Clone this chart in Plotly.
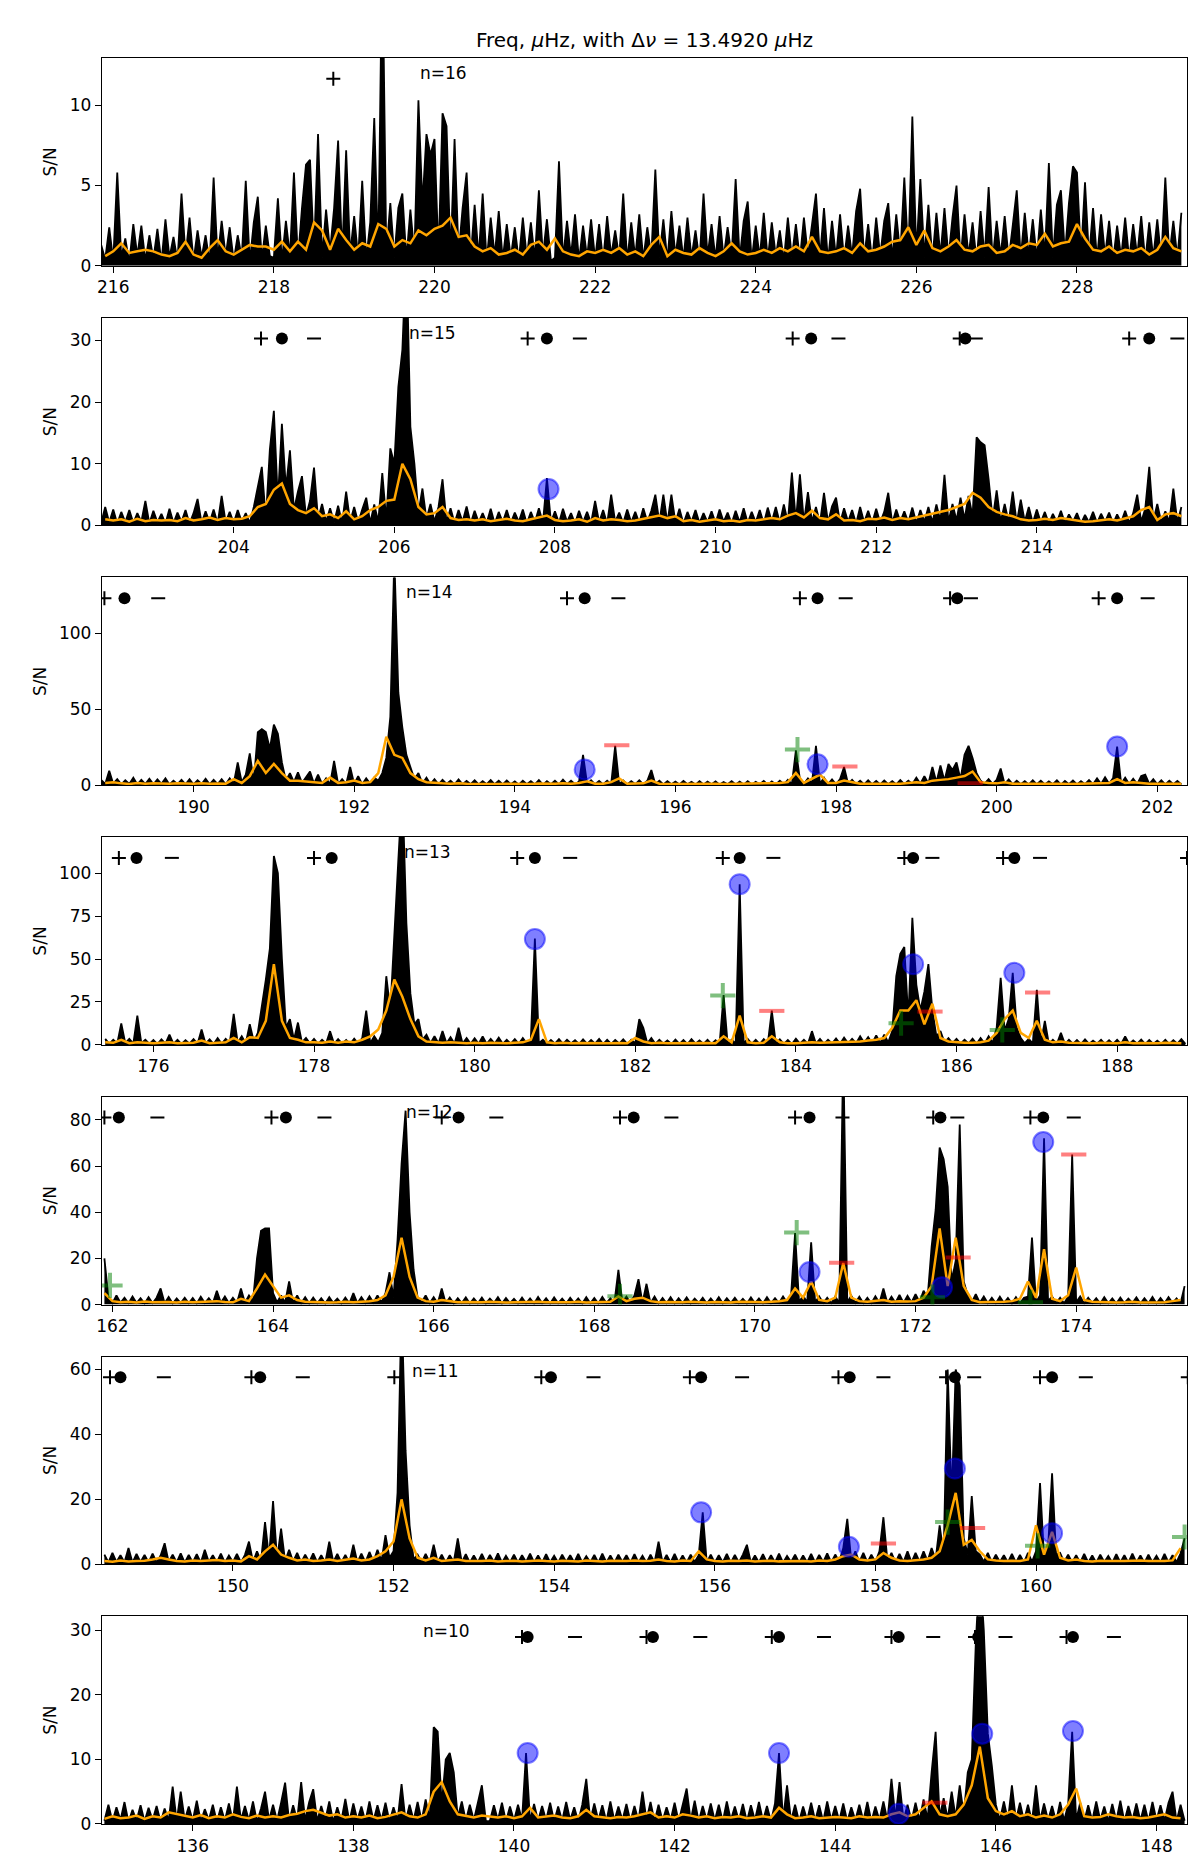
import plotly.graph_objects as go
from plotly.subplots import make_subplots

delta_nu = 13.4920
orders = [16, 15, 14, 13, 12, 11, 10]
x_low = [215.86, 202.36, 188.86, 175.36, 161.87, 148.37, 134.87]
x_width = 13.51
y_top = [12.94, 33.7, 137.0, 121.0, 90.0, 64.0, 32.2]
y_dtick = [5, 10, 50, 25, 20, 20, 10]
label_x = [219.79, 206.16, 192.62, 179.10, 165.63, 152.21, 138.84]

# S/N spectrum, sampled every 0.05 uHz from snr_start
snr_start = [215.85, 202.35, 188.85, 175.40, 161.90, 148.40, 134.90]
# smoothed spectrum, sampled every 0.1 uHz from smooth_start
smooth_start = [215.9, 202.4, 188.9, 175.4, 161.9, 148.4, 134.9]

snr_n16 = [1.3, 0.4, 2.4,
           0.3, 5.8, 0.5, 1.7, 0.2, 2.6, 0.6, 2.5, 0.3, 1.9,
           0.4, 2.3, 0.2, 2.9, 0.5, 1.8, 0.3, 4.5, 0.6, 3.0,
           0.3, 2.2, 0.5, 1.9, 0.2, 5.5, 0.4, 2.8, 0.6, 2.4,
           0.3, 1.9, 0.5, 5.3, 0.2, 2.7, 4.3, 0.4, 2.5, 0.6,
           0.5, 4.2, 0.3, 2.8, 0.6, 5.8, 0.4, 3.6, 6.3, 6.6,
           0.8, 8.2, 0.5, 3.5, 0.9, 3.6, 7.8, 0.6, 7.2, 0.7,
           3.1, 0.5, 5.3, 0.4, 2.7, 9.2, 0.6, 20.0, 0.8, 3.9,
           0.5, 3.6, 4.5, 0.4, 3.5, 0.7, 10.3, 3.8, 8.2, 6.9,
           7.9, 0.6, 9.5, 8.7, 0.5, 7.9, 0.7, 3.6, 5.8, 0.4,
           3.8, 0.5, 4.5, 0.3, 3.0, 0.6, 3.4, 0.4, 2.6, 0.5,
           2.4, 0.3, 3.0, 0.5, 2.7, 0.4, 4.7, 0.6, 2.9, 0.3,
           0.5, 6.5, 0.4, 2.8, 0.6, 3.2, 0.3, 2.5, 0.5, 2.9,
           0.4, 2.6, 0.3, 3.1, 0.6, 2.2, 0.5, 4.5, 0.3, 2.7,
           0.5, 3.2, 0.4, 2.4, 0.6, 6.0, 0.5, 2.9, 0.3, 3.4,
           0.6, 2.5, 0.4, 3.0, 0.5, 2.2, 0.3, 4.5, 0.6, 2.6,
           0.4, 3.1, 0.5, 2.4, 0.6, 5.4, 0.4, 2.8, 4.0, 0.3,
           2.5, 0.5, 3.3, 0.4, 2.7, 0.6, 2.2, 0.3, 3.0, 0.5,
           2.6, 0.4, 3.0, 0.6, 2.4, 4.5, 0.5, 3.6, 0.3, 2.8,
           0.5, 3.2, 0.4, 2.5, 0.6, 3.4, 4.8, 0.5, 2.6, 0.3,
           3.0, 0.6, 2.8, 3.9, 0.4, 3.2, 0.7, 5.5, 0.6, 9.3,
           0.7, 5.4, 0.5, 3.8, 0.4, 3.3, 0.6, 3.6, 0.5, 3.0,
           5.0, 0.4, 3.2, 0.6, 2.7, 0.3, 3.4, 0.5, 4.9, 0.4,
           2.8, 0.6, 3.1, 0.4, 2.5, 4.7, 0.5, 3.3, 0.6, 2.9,
           0.4, 3.5, 0.6, 6.4, 0.5, 3.8, 4.7, 0.7, 3.9, 6.2,
           5.8, 0.6, 5.2, 0.5, 3.6, 0.4, 3.2, 0.6, 2.8, 0.3,
           2.5, 0.5, 3.0, 0.4, 2.6, 0.6, 3.1, 0.3, 2.7, 0.5,
           2.9, 0.4, 5.5, 0.6, 2.8, 0.5, 3.3]

smooth_n16 = [0.6,
              0.9, 1.4, 0.8, 0.9, 1.0, 0.9, 0.7, 0.6, 0.8, 1.5,
              0.7, 0.5, 1.1, 1.6, 0.9, 0.7, 1.0, 1.3, 1.2, 1.2,
              1.0, 1.5, 0.9, 1.5, 1.0, 2.7, 2.2, 1.0, 2.3, 1.6,
              1.0, 1.4, 1.2, 2.6, 2.3, 1.2, 1.6, 1.4, 2.2, 1.9,
              2.3, 2.5, 3.0, 1.8, 1.9, 1.2, 0.9, 1.1, 0.7, 0.8,
              1.0, 0.7, 1.3, 1.5, 1.0, 1.7, 0.9, 0.7, 0.6, 0.9,
              0.8, 1.0, 0.8, 1.1, 0.7, 0.9, 0.6, 1.3, 1.8, 0.6,
              1.0, 0.8, 0.7, 1.1, 0.8, 0.6, 0.9, 1.4, 0.9, 0.7,
              0.8, 1.0, 0.8, 1.1, 0.9, 1.2, 0.9, 1.8, 0.9, 0.8,
              0.9, 1.1, 0.8, 1.4, 0.9, 1.0, 1.2, 1.5, 1.6, 2.4,
              1.3, 2.2, 1.1, 0.9, 1.2, 1.6, 1.0, 0.9, 1.2, 1.3,
              0.8, 0.9, 1.3, 1.1, 1.4, 1.3, 2.0, 1.2, 1.4, 1.5,
              2.6, 1.7, 1.0, 0.9, 1.2, 0.8, 1.0, 0.9, 1.1, 0.7,
              1.0, 1.8, 1.1, 0.9]

snr_n15 = [0.4, 3.0, 0.5,
           2.6, 0.3, 2.2, 0.5, 2.5, 0.4, 2.0, 0.6, 4.0, 0.3,
           2.4, 0.5, 1.9, 0.3, 2.7, 0.4, 2.1, 0.6, 2.5, 0.3,
           2.0, 4.3, 0.4, 2.3, 0.5, 2.6, 0.3, 4.8, 0.5, 2.2,
           0.4, 2.5, 0.6, 2.0, 0.4, 3.0, 6.0, 9.5, 1.0, 12.3,
           18.6, 4.0, 16.5, 6.0, 12.2, 2.5, 5.5, 8.0, 1.5, 4.0,
           9.4, 1.0, 3.5, 0.6, 2.8, 0.5, 3.2, 0.4, 5.5, 0.6,
           3.0, 0.5, 2.6, 4.5, 0.4, 3.4, 0.6, 8.5, 0.8, 12.5,
           10.0, 22.5, 28.5, 45.0, 16.0, 10.0, 2.0, 6.0, 1.0, 3.5,
           0.6, 3.0, 7.5, 0.5, 2.8, 0.4, 2.5, 0.6, 3.1, 0.3,
           2.4, 0.5, 2.0, 0.4, 2.7, 0.3, 2.2, 0.5, 2.5, 0.4,
           2.1, 0.6, 2.6, 0.3, 2.2, 0.5, 2.8, 0.4, 7.7, 0.5,
           2.3, 0.4, 2.7, 0.6, 2.0, 0.3, 2.4, 0.5, 2.2, 0.4,
           4.0, 0.5, 2.5, 0.3, 5.0, 0.6, 2.1, 0.4, 2.6, 0.5,
           2.2, 0.4, 2.8, 0.6, 2.4, 5.0, 0.5, 5.0, 0.4, 5.0,
           0.5, 2.7, 0.3, 2.2, 0.6, 2.5, 0.4, 2.0, 0.5, 2.3,
           0.4, 2.6, 0.6, 2.1, 0.3, 2.4, 0.5, 2.8, 0.4, 2.2,
           0.5, 2.5, 0.3, 2.9, 0.6, 3.0, 0.4, 3.4, 0.5, 8.6,
           0.7, 8.3, 0.5, 5.4, 0.6, 3.0, 0.4, 5.3, 0.5, 3.1,
           4.5, 0.4, 2.8, 0.6, 2.5, 0.3, 3.0, 0.5, 2.4, 0.4,
           2.7, 0.5, 2.2, 5.3, 0.4, 2.6, 0.6, 2.3, 0.5, 2.9,
           0.4, 2.5, 0.6, 3.0, 0.5, 3.4, 0.7, 8.2, 0.6, 3.5,
           0.8, 4.5, 1.0, 4.8, 1.5, 14.3, 13.5, 13.0, 7.5, 1.0,
           5.7, 0.6, 3.5, 0.5, 5.5, 0.4, 4.2, 0.6, 3.0, 0.4,
           2.6, 0.5, 2.2, 0.3, 1.9, 0.5, 2.4, 0.4, 1.8, 0.6,
           2.0, 0.3, 1.7, 0.5, 2.2, 0.4, 1.9, 0.6, 2.1, 0.3,
           1.8, 0.5, 2.4, 0.4, 2.0, 5.0, 0.6, 2.7, 9.5, 0.7,
           3.5, 0.5, 2.3, 0.6, 6.0, 0.5, 3.0]

smooth_n15 = [1.0, 0.8, 1.0, 0.6, 1.1, 0.7,
              0.9, 0.8, 0.9, 0.7, 1.2, 0.8, 1.0, 1.3, 0.9, 1.2,
              1.0, 1.1, 1.5, 3.0, 3.5, 5.8, 6.8, 3.5, 2.5, 2.0,
              2.8, 1.5, 1.8, 1.2, 2.3, 1.0, 1.5, 2.5, 3.0, 4.0,
              4.2, 10.0, 7.5, 3.0, 1.8, 2.0, 3.0, 1.2, 0.9, 1.0,
              0.8, 1.0, 0.7, 0.9, 1.1, 0.8, 0.7, 1.0, 1.3, 1.6,
              0.9, 0.7, 0.8, 1.0, 0.6, 1.2, 0.8, 1.0, 0.9, 0.7,
              0.8, 1.1, 1.3, 1.6, 1.2, 1.5, 0.7, 0.9, 0.6, 0.8,
              1.0, 0.7, 0.8, 0.6, 0.9, 0.8, 1.0, 1.2, 1.0, 1.6,
              2.0, 1.3, 2.4, 1.2, 1.0, 1.8, 0.8, 0.9, 0.7, 1.1,
              1.0, 1.3, 0.9, 1.2, 1.0, 1.3, 1.5, 1.8, 2.2, 2.5,
              3.0, 3.5, 5.3, 4.5, 3.0, 2.2, 1.8, 1.5, 1.0, 0.8,
              0.9, 1.1, 0.9, 1.2, 1.0, 0.8, 0.6, 0.7, 0.9, 1.0,
              0.8, 1.2, 1.5, 2.5, 3.0, 0.9, 1.8, 2.0, 1.5]

snr_n14 = [3.5, 0.8, 9.5,
           1.0, 4.0, 0.6, 3.2, 0.8, 5.0, 0.5, 3.5, 0.7, 4.2,
           0.6, 3.8, 0.9, 4.5, 0.5, 3.0, 0.7, 3.6, 0.6, 4.0,
           0.5, 3.2, 0.8, 4.3, 0.6, 3.5, 0.7, 3.9, 0.5, 4.5,
           1.0, 15.0, 2.0, 7.0, 21.0, 2.0, 35.0, 37.0, 35.0, 24.0,
           40.0, 34.0, 15.0, 3.0, 8.0, 2.0, 8.5, 1.5, 5.0, 9.0,
           1.0, 7.0, 0.8, 4.5, 0.6, 16.0, 0.8, 4.0, 0.7, 12.0,
           0.8, 6.0, 0.6, 4.5, 1.0, 5.0, 3.0, 8.0, 18.0, 45.0,
           150.0, 61.0, 38.0, 20.0, 12.0, 4.0, 8.0, 1.0, 5.0, 0.7,
           4.0, 0.6, 3.5, 0.8, 3.0, 0.5, 3.8, 0.6, 2.8, 0.7,
           3.2, 0.5, 2.6, 0.7, 3.4, 0.6, 2.9, 0.5, 3.1, 0.6,
           2.5, 0.4, 3.0, 0.6, 2.7, 0.5, 3.3, 0.4, 2.6, 0.6,
           2.9, 0.5, 3.6, 0.7, 3.0, 0.6, 2.4, 20.0, 0.8, 3.2,
           0.6, 2.8, 0.5, 3.0, 0.7, 26.0, 0.6, 3.1, 0.5, 2.7,
           0.6, 3.2, 0.5, 2.9, 10.0, 0.7, 3.0, 0.5, 2.6, 0.6,
           2.4, 0.5, 2.8, 0.6, 2.2, 0.4, 2.6, 0.5, 2.3, 0.6,
           2.5, 0.4, 2.1, 0.6, 2.7, 0.5, 2.3, 0.4, 2.6, 0.5,
           2.2, 0.6, 2.8, 0.4, 2.5, 0.5, 3.0, 0.6, 3.5, 0.7,
           23.0, 4.0, 1.0, 4.5, 1.2, 26.0, 1.0, 5.0, 0.7, 3.8,
           0.6, 4.0, 12.0, 0.8, 3.5, 0.6, 3.0, 0.5, 3.3, 0.6,
           2.8, 0.5, 3.1, 0.6, 2.6, 0.5, 3.4, 0.7, 3.0, 0.8,
           5.0, 1.0, 6.0, 1.2, 12.0, 2.0, 13.0, 3.0, 14.0, 10.0,
           15.0, 4.0, 20.0, 26.0, 18.0, 8.0, 3.0, 1.0, 4.0, 0.8,
           3.5, 11.0, 0.7, 3.8, 0.5, 3.0, 0.6, 2.7, 0.5, 3.2,
           0.6, 2.9, 0.5, 2.5, 0.7, 3.3, 0.4, 2.8, 0.6, 3.1,
           0.5, 2.6, 0.7, 3.4, 0.6, 4.5, 0.8, 5.2, 1.0, 4.8,
           25.5, 1.0, 5.0, 0.8, 4.2, 0.7, 6.0, 7.0, 0.8, 4.0,
           0.6, 3.2, 0.5, 3.0, 0.7, 2.8, 0.5]

smooth_n14 = [1.5,
              2.0, 1.2, 0.8, 1.5, 1.0, 1.3, 1.1, 0.9, 1.2, 1.0,
              1.0, 1.3, 0.9, 1.1, 1.0, 4.0, 1.5, 6.0, 16.0, 8.0,
              14.0, 8.0, 3.0, 3.0, 2.5, 2.0, 1.5, 5.0, 1.5, 2.0,
              3.0, 1.5, 2.0, 8.0, 32.0, 20.0, 18.0, 8.0, 4.0, 2.0,
              1.5, 1.2, 1.0, 1.3, 1.0, 0.9, 1.2, 1.0, 0.8, 1.0,
              0.9, 1.0, 0.8, 1.1, 0.9, 1.0, 1.2, 1.0, 1.5, 2.5,
              1.0, 0.9, 2.0, 4.5, 1.0, 1.0, 1.2, 3.0, 1.0, 0.8,
              0.9, 1.0, 0.8, 1.1, 0.9, 1.0, 0.8, 0.9, 1.0, 0.9,
              0.8, 1.0, 1.1, 1.5, 2.0, 8.0, 1.5, 4.0, 7.0, 1.5,
              1.5, 3.0, 2.0, 1.0, 0.9, 1.0, 1.2, 1.0, 0.9, 1.5,
              2.0, 1.5, 3.0, 3.5, 4.0, 5.0, 6.0, 9.0, 2.0, 1.5,
              1.2, 2.0, 1.0, 0.9, 1.0, 0.8, 1.0, 0.9, 1.0, 0.8,
              1.0, 1.2, 1.5, 1.3, 1.5, 4.0, 1.5, 2.0, 1.3, 1.0,
              0.9, 1.0, 0.8, 1.0]

snr_n13 = [3.5, 0.6,
           3.0, 0.8, 12.5, 1.0, 3.5, 0.7, 17.0, 1.0, 3.0, 0.6,
           2.8, 0.5, 3.2, 0.7, 6.0, 0.6, 3.0, 0.5, 2.7, 0.7,
           3.4, 0.6, 9.0, 0.7, 3.2, 0.5, 4.0, 0.6, 3.5, 1.0,
           18.0, 1.2, 5.0, 1.0, 12.0, 2.0, 7.0, 22.0, 38.0, 56.0,
           110.0, 100.0, 50.0, 10.0, 15.0, 3.0, 13.0, 1.5, 4.0, 0.8,
           3.5, 0.6, 3.0, 0.8, 8.0, 0.6, 3.4, 0.7, 2.9, 0.6,
           3.6, 0.7, 4.0, 20.0, 1.0, 5.0, 1.5, 7.0, 40.0, 20.0,
           68.0, 108.0, 150.0, 71.0, 30.0, 12.0, 15.0, 3.0, 6.0, 1.0,
           5.0, 0.8, 8.0, 0.9, 4.5, 0.7, 10.0, 0.8, 4.0, 0.6,
           3.8, 0.7, 5.0, 0.6, 3.5, 0.8, 4.2, 0.6, 3.0, 0.7,
           3.3, 0.6, 4.0, 0.8, 3.6, 62.0, 1.0, 3.0, 0.6, 2.8,
           0.7, 3.4, 0.6, 3.0, 0.8, 2.7, 0.5, 3.2, 0.6, 2.9,
           0.7, 3.5, 0.5, 3.0, 0.6, 2.8, 0.8, 3.3, 0.6, 3.0,
           0.8, 15.0, 10.0, 1.0, 4.0, 0.6, 3.0, 0.7, 2.6, 0.5,
           3.1, 0.6, 2.8, 0.5, 3.3, 0.7, 2.6, 0.6, 3.0, 0.5,
           2.7, 0.6, 29.0, 0.7, 3.0, 0.8, 93.5, 1.0, 3.5, 0.6,
           3.0, 0.5, 3.4, 0.7, 20.0, 0.8, 3.2, 0.6, 2.9, 0.5,
           3.6, 0.7, 3.0, 0.6, 8.0, 0.7, 3.5, 0.6, 3.0, 0.8,
           3.8, 0.7, 4.2, 0.9, 3.5, 1.0, 5.0, 1.2, 4.5, 1.0,
           5.5, 1.2, 6.0, 1.5, 8.0, 40.0, 53.0, 57.0, 15.0, 74.0,
           35.0, 20.0, 31.0, 47.0, 20.0, 5.0, 8.0, 1.5, 4.0, 1.0,
           3.5, 0.7, 3.0, 0.8, 3.6, 0.6, 4.0, 0.8, 5.0, 1.2,
           10.0, 39.0, 8.0, 15.0, 42.0, 10.0, 4.0, 1.0, 3.5, 0.8,
           32.0, 0.8, 14.0, 0.6, 3.0, 0.7, 7.0, 0.5, 3.0, 0.6,
           2.8, 0.5, 3.2, 0.6, 2.5, 0.7, 3.0, 0.5, 2.7, 0.6,
           3.0, 0.5, 5.0, 0.6, 2.6, 0.7, 3.1, 0.5, 2.8, 0.6,
           2.5, 0.6, 3.0, 0.5, 2.7, 0.7, 3.3, 0.6]

smooth_n13 = [1.5, 1.2, 3.0, 1.0, 1.5, 1.2,
              1.0, 1.2, 1.5, 1.0, 1.3, 1.2, 2.5, 1.0, 1.2, 1.5,
              4.0, 1.5, 4.5, 4.0, 14.0, 47.0, 14.0, 4.0, 3.0, 1.5,
              1.5, 1.2, 2.0, 1.3, 2.0, 1.5, 3.0, 5.0, 9.0, 20.0,
              38.0, 28.0, 15.0, 5.0, 2.0, 1.5, 1.2, 1.5, 1.2, 1.0,
              1.2, 1.0, 1.3, 1.1, 1.0, 1.2, 1.5, 3.0, 15.0, 1.5,
              1.0, 1.2, 0.9, 1.1, 1.0, 1.2, 0.9, 1.0, 1.1, 1.0,
              4.0, 2.0, 1.0, 1.2, 0.9, 1.0, 1.2, 0.9, 1.0, 1.1,
              1.0, 5.0, 1.5, 17.0, 1.5, 1.0, 1.2, 5.0, 1.5, 1.0,
              1.0, 1.2, 1.5, 1.2, 1.3, 1.5, 1.8, 1.5, 2.0, 2.5,
              3.0, 4.0, 10.0, 20.0, 20.0, 26.0, 12.0, 24.0, 4.0, 2.0,
              1.5, 1.2, 1.3, 1.5, 2.5, 7.0, 15.0, 20.0, 7.0, 4.0,
              14.0, 3.0, 1.5, 2.0, 1.2, 1.0, 1.1, 1.0, 1.2, 0.9,
              1.0, 1.5, 1.0, 1.1, 0.9, 1.0, 1.2, 0.9, 1.0]

snr_n12 = [20.0, 3.0,
           0.6, 4.0, 0.8, 3.0, 0.6, 3.5, 0.7, 2.8, 0.5, 3.2,
           0.6, 3.0, 7.0, 0.6, 3.3, 0.5, 2.7, 0.7, 3.0, 0.6,
           2.9, 0.5, 3.4, 0.7, 2.8, 0.6, 6.0, 0.8, 3.5, 0.6,
           3.0, 0.7, 7.0, 0.8, 4.0, 1.5, 20.0, 32.0, 33.0, 33.0,
           5.0, 1.0, 4.0, 0.8, 10.0, 0.7, 4.0, 0.6, 3.2, 0.5,
           3.0, 0.6, 2.8, 0.5, 3.2, 0.7, 2.6, 0.5, 3.0, 0.6,
           5.0, 0.6, 3.2, 0.7, 3.6, 0.8, 4.0, 1.0, 5.0, 14.0,
           3.0, 28.0, 61.0, 84.0, 40.0, 15.0, 3.0, 1.0, 4.0, 0.6,
           3.2, 0.5, 7.0, 0.6, 3.0, 0.5, 2.8, 0.7, 3.1, 0.5,
           2.7, 0.6, 3.0, 0.5, 2.6, 0.7, 3.2, 0.5, 2.9, 0.6,
           2.5, 0.5, 3.0, 0.6, 2.7, 0.5, 3.3, 0.6, 2.8, 0.5,
           3.1, 0.6, 2.6, 0.5, 3.0, 0.7, 2.7, 0.5, 3.2, 0.6,
           2.9, 0.5, 3.3, 0.7, 2.7, 0.8, 15.0, 1.0, 3.5, 0.7,
           4.0, 11.0, 0.8, 9.0, 0.6, 3.5, 0.5, 2.9, 0.6, 3.2,
           0.5, 2.8, 0.6, 3.1, 0.5, 2.6, 0.7, 3.0, 0.5, 2.7,
           0.6, 3.2, 0.5, 2.8, 0.7, 3.0, 0.6, 2.5, 0.5, 3.1,
           0.6, 2.7, 0.5, 3.2, 0.6, 2.8, 0.7, 3.5, 0.8, 4.0,
           31.0, 1.0, 4.0, 0.8, 27.0, 1.0, 3.5, 0.7, 3.0, 0.6,
           3.5, 0.7, 110.0, 1.0, 3.8, 0.7, 3.4, 0.6, 3.0, 0.6,
           3.6, 0.7, 7.0, 0.6, 3.4, 0.8, 4.2, 0.7, 3.8, 0.9,
           4.5, 1.2, 6.0, 3.0, 25.0, 41.0, 68.0, 63.0, 51.0, 10.0,
           19.0, 78.0, 10.0, 4.0, 1.0, 4.5, 0.8, 3.5, 0.6, 3.0,
           0.6, 3.4, 0.7, 2.9, 0.5, 3.2, 0.7, 3.0, 3.5, 29.0,
           1.0, 4.0, 72.0, 1.5, 3.5, 0.7, 3.0, 0.6, 3.4, 65.0,
           1.0, 3.5, 0.6, 3.0, 0.7, 2.8, 0.5, 3.2, 0.6, 2.7,
           0.5, 3.0, 0.6, 2.6, 0.7, 3.1, 0.5, 2.8, 0.6, 3.3,
           0.5, 2.9, 0.6, 3.2, 0.7, 2.7, 0.6, 8.0]

smooth_n12 = [5.0,
              1.5, 1.0, 1.2, 0.9, 1.3, 1.0, 1.2, 1.1, 0.9, 1.2,
              1.0, 1.2, 1.3, 1.5, 1.1, 1.0, 2.5, 1.5, 7.0, 13.0,
              8.0, 3.0, 4.0, 2.0, 1.2, 1.0, 1.1, 0.9, 1.0, 1.2,
              1.0, 1.2, 1.5, 2.0, 4.0, 12.0, 29.0, 12.0, 3.0, 1.5,
              1.2, 2.0, 1.5, 1.0, 1.1, 0.9, 1.0, 1.2, 1.0, 0.9,
              1.0, 1.1, 0.9, 1.2, 1.0, 0.9, 1.1, 1.0, 1.2, 0.9,
              1.0, 1.1, 1.2, 3.5, 1.5, 2.5, 3.0, 1.5, 1.0, 1.1,
              0.9, 1.0, 1.2, 1.0, 0.9, 1.1, 1.0, 0.9, 1.2, 1.0,
              1.1, 1.0, 1.2, 1.5, 2.0, 7.0, 3.0, 10.0, 2.0, 1.5,
              3.0, 18.0, 3.0, 1.5, 1.2, 1.5, 2.0, 1.2, 1.5, 1.3,
              1.5, 3.0, 8.0, 33.0, 8.0, 29.0, 8.0, 2.0, 1.0, 1.1,
              1.0, 1.2, 1.5, 2.5, 10.0, 3.0, 24.0, 2.5, 1.5, 4.0,
              16.0, 2.0, 1.2, 1.0, 1.1, 0.9, 1.0, 1.2, 0.9, 1.0,
              1.1, 1.0, 1.5, 2.0]

snr_n11 = [3.0, 0.6,
           3.5, 0.7, 2.8, 0.6, 5.0, 0.5, 3.2, 0.7, 2.9, 0.6,
           3.3, 0.5, 2.7, 6.5, 0.7, 3.0, 0.6, 3.4, 0.5, 2.9,
           0.6, 3.1, 0.5, 4.5, 0.7, 2.8, 0.6, 3.3, 0.5, 2.7,
           0.7, 3.2, 0.6, 2.9, 7.0, 0.8, 4.0, 1.0, 13.0, 2.0,
           19.5, 1.5, 11.0, 1.0, 4.5, 0.8, 3.5, 0.6, 3.0, 0.7,
           3.4, 0.6, 2.8, 0.5, 7.0, 0.7, 3.2, 0.6, 2.9, 0.5,
           6.0, 0.6, 3.3, 0.7, 3.8, 0.8, 4.5, 1.0, 9.0, 2.0,
           4.0, 22.0, 80.0, 35.0, 12.0, 1.5, 3.0, 0.6, 3.2, 0.7,
           6.0, 0.6, 3.0, 0.5, 2.8, 0.7, 8.0, 0.6, 3.1, 0.5,
           2.7, 0.6, 3.2, 0.5, 2.9, 0.7, 3.4, 0.5, 2.6, 0.6,
           3.0, 0.5, 2.8, 0.7, 3.3, 0.6, 2.7, 0.5, 3.1, 0.6,
           2.6, 0.5, 3.0, 0.7, 2.8, 0.6, 3.2, 0.5, 2.5, 0.6,
           2.9, 0.5, 3.3, 0.6, 2.7, 0.5, 3.0, 0.7, 2.8, 0.5,
           3.1, 0.6, 2.6, 0.5, 3.0, 0.6, 7.0, 0.5, 2.9, 0.6,
           3.2, 0.5, 2.7, 0.6, 3.0, 0.7, 2.8, 16.0, 0.6, 3.0,
           0.5, 2.8, 0.6, 3.2, 0.5, 2.9, 0.6, 3.0, 6.0, 0.5,
           2.7, 0.6, 3.1, 0.5, 2.8, 0.6, 3.3, 0.5, 2.6, 0.7,
           3.0, 0.5, 2.7, 0.6, 3.2, 0.5, 2.9, 0.7, 3.4, 0.6,
           3.0, 0.8, 5.0, 14.0, 1.0, 4.0, 0.7, 3.5, 0.6, 3.0,
           0.7, 4.0, 14.5, 1.0, 3.5, 0.6, 3.2, 0.7, 4.0, 0.6,
           3.5, 0.8, 4.0, 1.0, 5.0, 1.5, 12.0, 3.0, 60.0, 20.0,
           60.0, 55.0, 8.0, 3.0, 21.0, 4.0, 3.0, 0.8, 3.5, 0.6,
           3.0, 0.7, 2.8, 0.6, 3.2, 0.5, 2.9, 0.6, 3.5, 0.8,
           4.0, 25.0, 2.0, 5.0, 28.0, 3.0, 3.5, 0.7, 3.0, 0.6,
           2.8, 0.5, 3.2, 0.6, 2.7, 0.5, 3.0, 0.7, 2.6, 0.5,
           3.1, 0.6, 2.8, 0.5, 3.3, 0.6, 2.7, 0.5, 3.0, 0.6,
           2.6, 0.5, 3.2, 0.6, 2.8, 0.7, 3.4, 8.0]

smooth_n11 = [1.0, 0.8, 1.2, 0.9, 1.0, 1.1,
              1.5, 2.0, 1.5, 1.0, 0.9, 1.2, 1.0, 1.1, 1.3, 1.0,
              1.2, 0.9, 2.5, 1.5, 4.0, 6.0, 3.0, 2.0, 1.2, 1.5,
              1.0, 1.2, 1.5, 1.0, 1.3, 1.8, 1.2, 1.5, 2.5, 4.0,
              7.0, 20.0, 8.0, 2.0, 1.2, 2.0, 1.0, 1.2, 1.5, 1.0,
              0.9, 1.0, 1.2, 0.9, 1.0, 1.1, 0.9, 1.0, 1.2, 1.0,
              0.9, 1.1, 1.0, 0.9, 1.2, 1.0, 0.9, 1.1, 1.0, 1.0,
              1.2, 1.0, 1.1, 1.5, 1.0, 0.9, 1.2, 1.0, 4.0, 1.5,
              1.0, 0.9, 1.1, 1.0, 1.2, 0.9, 1.0, 1.1, 0.9, 1.0,
              1.1, 1.0, 0.9, 1.2, 1.0, 1.5, 2.5, 3.0, 1.5, 1.2,
              1.5, 3.5, 2.0, 1.2, 1.0, 1.2, 1.5, 2.0, 4.0, 12.0,
              22.0, 6.0, 7.5, 4.0, 1.5, 1.2, 1.0, 1.1, 1.0, 1.5,
              12.0, 3.0, 10.0, 2.0, 1.2, 1.5, 1.0, 0.9, 1.1, 1.0,
              0.9, 1.0, 1.1, 1.2, 1.0, 0.9, 1.0, 1.2, 5.0]

snr_n10 = [0.5, 3.0,
           0.4, 2.6, 0.6, 3.4, 0.3, 2.2, 0.5, 2.9, 0.4, 2.5,
           0.6, 2.8, 0.3, 2.4, 0.5, 5.8, 0.4, 5.0, 0.6, 2.7,
           0.5, 3.6, 0.4, 2.3, 0.6, 3.0, 0.3, 2.6, 0.5, 3.2,
           0.4, 5.8, 0.6, 2.8, 0.5, 3.5, 0.3, 2.4, 5.0, 0.6,
           3.0, 0.5, 3.3, 6.4, 0.4, 2.9, 0.6, 6.5, 0.5, 3.4,
           5.4, 0.4, 2.8, 0.6, 3.5, 0.3, 2.6, 0.5, 3.9, 0.4,
           3.2, 0.6, 2.7, 0.4, 3.5, 0.5, 2.9, 0.6, 3.3, 0.4,
           2.6, 0.5, 6.2, 0.4, 3.0, 0.6, 3.4, 0.5, 3.8, 0.7,
           15.0, 14.3, 3.0, 10.0, 11.0, 8.0, 1.0, 3.5, 0.5, 3.0,
           0.6, 3.2, 6.0, 0.4, 0.5, 2.9, 0.6, 3.3, 0.4, 2.7,
           0.5, 3.0, 0.6, 11.0, 0.4, 3.1, 0.5, 2.8, 0.6, 3.3,
           0.4, 2.7, 0.5, 3.4, 0.6, 2.6, 0.4, 3.0, 7.0, 0.5,
           3.2, 0.6, 2.9, 0.4, 3.5, 0.5, 2.7, 0.6, 3.1, 0.4,
           2.8, 0.5, 5.0, 0.6, 3.4, 0.4, 3.0, 0.5, 2.6, 0.6,
           3.3, 0.4, 2.9, 5.5, 0.5, 3.6, 0.4, 2.8, 0.6, 3.2,
           0.5, 3.0, 0.4, 3.5, 0.6, 2.7, 0.5, 3.1, 0.4, 2.9,
           0.6, 3.4, 0.5, 2.8, 0.4, 3.2, 11.0, 0.6, 6.0, 0.5,
           3.0, 0.4, 2.7, 0.6, 3.3, 0.5, 2.9, 0.4, 3.5, 0.6,
           2.8, 0.5, 3.2, 0.4, 2.6, 0.6, 3.0, 0.5, 3.4, 0.4,
           2.7, 0.6, 3.5, 0.5, 7.0, 0.8, 6.5, 0.6, 3.0, 0.5,
           3.3, 0.6, 3.8, 0.7, 8.0, 14.3, 1.0, 4.0, 0.8, 5.0,
           1.0, 6.0, 1.5, 8.0, 10.0, 28.0, 40.0, 30.0, 14.0, 9.0,
           3.0, 0.6, 3.5, 0.5, 6.0, 0.6, 3.3, 0.5, 3.0, 0.4,
           6.0, 0.5, 3.2, 0.6, 2.8, 0.4, 3.4, 0.5, 3.0, 14.3,
           0.6, 3.3, 0.4, 2.9, 0.5, 3.5, 0.6, 2.7, 0.4, 3.1,
           0.5, 3.6, 0.4, 2.8, 0.6, 3.2, 0.5, 3.0, 0.4, 3.4,
           0.6, 2.9, 0.5, 3.3, 5.0, 0.4, 3.0, 0.5]

smooth_n10 = [0.8,
              1.2, 0.9, 1.0, 1.3, 0.8, 1.2, 1.0, 1.8, 1.5, 1.2,
              1.0, 1.4, 0.9, 1.2, 1.0, 1.5, 1.1, 0.9, 1.3, 1.0,
              1.2, 1.0, 1.4, 1.6, 2.0, 2.2, 1.8, 1.3, 1.5, 1.0,
              1.2, 1.0, 1.3, 0.9, 1.1, 1.5, 1.8, 1.2, 1.0, 1.5,
              5.0, 6.5, 3.5, 1.5, 1.2, 1.0, 1.3, 1.1, 1.0, 1.2,
              0.9, 1.2, 2.5, 1.0, 1.1, 1.3, 1.0, 0.9, 1.2, 2.2,
              1.2, 1.0, 0.9, 1.1, 1.0, 1.2, 1.5, 1.8, 1.0, 1.2,
              1.0, 1.5, 1.3, 1.0, 1.2, 0.9, 1.1, 1.0, 1.2, 0.9,
              1.0, 1.2, 1.0, 2.5, 1.5, 0.9, 1.0, 1.2, 0.9, 1.0,
              1.1, 1.0, 0.9, 1.2, 1.0, 1.1, 1.0, 1.5, 1.8, 1.2,
              1.5, 2.5, 3.5, 1.5, 1.2, 1.5, 3.0, 6.0, 12.0, 4.0,
              2.0, 1.5, 2.0, 1.2, 1.5, 1.0, 1.3, 1.0, 1.5, 3.0,
              5.5, 1.2, 1.0, 1.1, 1.5, 1.2, 1.0, 1.1, 0.9, 1.0,
              1.2, 1.5, 1.0, 0.9]

# predicted rotational triplets (m = +1, 0, -1), uHz
plus_freq = [[218.74],
             [204.34, 207.66, 210.96, 213.04, 215.15],
             [188.89, 194.65, 197.55, 199.42, 201.27],
             [175.57, 178.00, 180.53, 183.09, 185.35, 186.58, 188.87],
             [161.90, 163.98, 166.10, 168.32, 170.50, 172.22, 173.43],
             [148.47, 150.23, 152.01, 153.84, 155.69, 157.54, 158.88, 160.05, 161.89],
             [140.10, 141.65, 143.21, 144.70, 145.74, 146.88]]
zero_freq = [[],
             [204.60, 207.90, 211.19, 213.11, 215.40],
             [189.14, 194.87, 197.77, 199.51, 201.50],
             [175.79, 178.22, 180.75, 183.30, 185.46, 186.72],
             [162.08, 164.16, 166.31, 168.49, 170.68, 172.31, 173.59],
             [148.60, 150.34, 153.96, 155.83, 157.68, 158.99, 160.20],
             [140.17, 141.73, 143.30, 144.79, 145.78, 146.96]]
minus_freq = [[],
              [205.00, 208.31, 211.53, 213.24, 215.75],
              [189.56, 195.29, 198.12, 199.68, 201.88],
              [176.23, 181.19, 183.72, 185.70, 187.04],
              [162.56, 164.64, 166.78, 168.96, 171.09, 172.52, 173.97],
              [149.14, 150.87, 154.49, 156.34, 158.10, 159.23, 160.62],
              [140.76, 142.32, 143.86, 145.22, 146.12, 147.47]]

# identified m=0 peaks
blue_freq = [[], [207.92], [194.87, 197.77, 201.50],
             [180.75, 183.30, 185.46, 186.72], [170.68, 172.33, 173.59],
             [155.83, 157.67, 158.99, 160.20],
             [140.17, 143.30, 144.79, 145.83, 146.96]]
blue_snr = [[], [5.9], [10.4, 13.8, 25.5],
            [61.6, 93.6, 47.0, 42.0], [14.1, 7.5, 70.4],
            [16.0, 5.4, 29.5, 9.6],
            [11.0, 11.0, 1.6, 14.0, 14.4]]

# identified m=+1 peaks
green_freq = [[], [], [197.52], [183.09, 185.31, 186.57],
              [161.97, 168.32, 170.52, 172.21, 173.43],
              [158.90, 160.02, 161.85], []]
green_snr = [[], [], [23.5], [28.7, 12.6, 8.7],
             [8.3, 3.6, 31.2, 3.2, 1.0],
             [13.0, 5.7, 8.4], []]

# identified m=-1 peaks
red_freq = [[], [], [195.27, 198.11, 199.67], [183.70, 185.67, 187.01],
            [171.08, 172.53, 173.97], [158.10, 159.21], [145.24]]
red_snr = [[], [], [26.4, 12.3, 1.2], [19.8, 19.4, 30.5],
           [18.1, 20.4, 65.0], [6.4, 11.2], [3.3]]

snr_lists = [snr_n16, snr_n15, snr_n14, snr_n13, snr_n12, snr_n11, snr_n10]
smooth_lists = [smooth_n16, smooth_n15, smooth_n14, smooth_n13, smooth_n12, smooth_n11, smooth_n10]

font = "DejaVu Sans"
fig = make_subplots(rows=7, cols=1, vertical_spacing=0.0294)

for i in range(7):
    row = i + 1
    snr = snr_lists[i]
    smooth = smooth_lists[i]
    f_snr = [snr_start[i] + 0.05 * k for k in range(len(snr))]
    f_smooth = [smooth_start[i] + 0.1 * k for k in range(len(smooth))]
    marker_y = 0.9 * y_top[i]

    fig.add_trace(go.Scatter(x=f_snr, y=snr, mode="lines", fill="tozeroy", fillcolor="black",
                             line=dict(color="black", width=1.8)), row=row, col=1)
    fig.add_trace(go.Scatter(x=f_smooth, y=smooth, mode="lines",
                             line=dict(color="#FFA500", width=2.5)), row=row, col=1)

    fig.add_trace(go.Scatter(x=plus_freq[i], y=[marker_y] * len(plus_freq[i]), mode="markers",
                             marker=dict(symbol="cross-thin", size=10, line=dict(color="black", width=2))),
                  row=row, col=1)
    fig.add_trace(go.Scatter(x=zero_freq[i], y=[marker_y] * len(zero_freq[i]), mode="markers",
                             marker=dict(symbol="circle", size=12, color="black")),
                  row=row, col=1)
    fig.add_trace(go.Scatter(x=minus_freq[i], y=[marker_y] * len(minus_freq[i]), mode="markers",
                             marker=dict(symbol="line-ew", size=10, line=dict(color="black", width=2))),
                  row=row, col=1)

    fig.add_trace(go.Scatter(x=blue_freq[i], y=blue_snr[i], mode="markers",
                             marker=dict(symbol="circle", size=20, color="rgba(0,0,255,0.5)",
                                         line=dict(color="rgba(0,0,255,0.5)", width=2))),
                  row=row, col=1)
    fig.add_trace(go.Scatter(x=green_freq[i], y=green_snr[i], mode="markers",
                             marker=dict(symbol="cross-thin", size=18,
                                         line=dict(color="rgba(0,128,0,0.5)", width=4))),
                  row=row, col=1)
    fig.add_trace(go.Scatter(x=red_freq[i], y=red_snr[i], mode="markers",
                             marker=dict(symbol="line-ew", size=18,
                                         line=dict(color="rgba(255,0,0,0.5)", width=4))),
                  row=row, col=1)

    fig.update_xaxes(range=[x_low[i], x_low[i] + x_width], dtick=2, row=row, col=1)
    fig.update_yaxes(range=[0, y_top[i]], dtick=y_dtick[i], title_text="S/N",
                     title_standoff=8, row=row, col=1)

    xref = "x" if row == 1 else f"x{row}"
    yref = "y domain" if row == 1 else f"y{row} domain"
    fig.add_annotation(x=label_x[i], y=0.928, xref=xref, yref=yref, text=f"n={orders[i]}",
                       showarrow=False, xanchor="left", yanchor="middle",
                       font=dict(family=font, size=17, color="black"))

fig.update_xaxes(showline=True, mirror=True, linecolor="black", linewidth=1.3,
                 ticks="outside", ticklen=6, tickwidth=1.3, tickcolor="black", automargin=False,
                 showgrid=False, zeroline=False, tickfont=dict(family=font, size=17, color="black"))
fig.update_yaxes(showline=True, mirror=True, linecolor="black", linewidth=1.3,
                 ticks="outside", ticklen=6, tickwidth=1.3, tickcolor="black", automargin=False,
                 showgrid=False, zeroline=False, tickfont=dict(family=font, size=17, color="black"),
                 title_font=dict(family=font, size=17, color="black"))

fig.update_layout(
    width=1200, height=1867,
    margin=dict(l=94, r=21, t=50, b=51),
    plot_bgcolor="white", paper_bgcolor="white",
    showlegend=False,
    title=dict(text=f"Freq, <i>μ</i>Hz, with Δ<i>ν</i> = {delta_nu:.4f} <i>μ</i>Hz",
               x=0.5, xref="paper", xanchor="center",
               y=1 - 32 / 1867, yref="container", yanchor="middle",
               font=dict(family=font, size=20, color="black")),
)

fig.write_html("out.html")
